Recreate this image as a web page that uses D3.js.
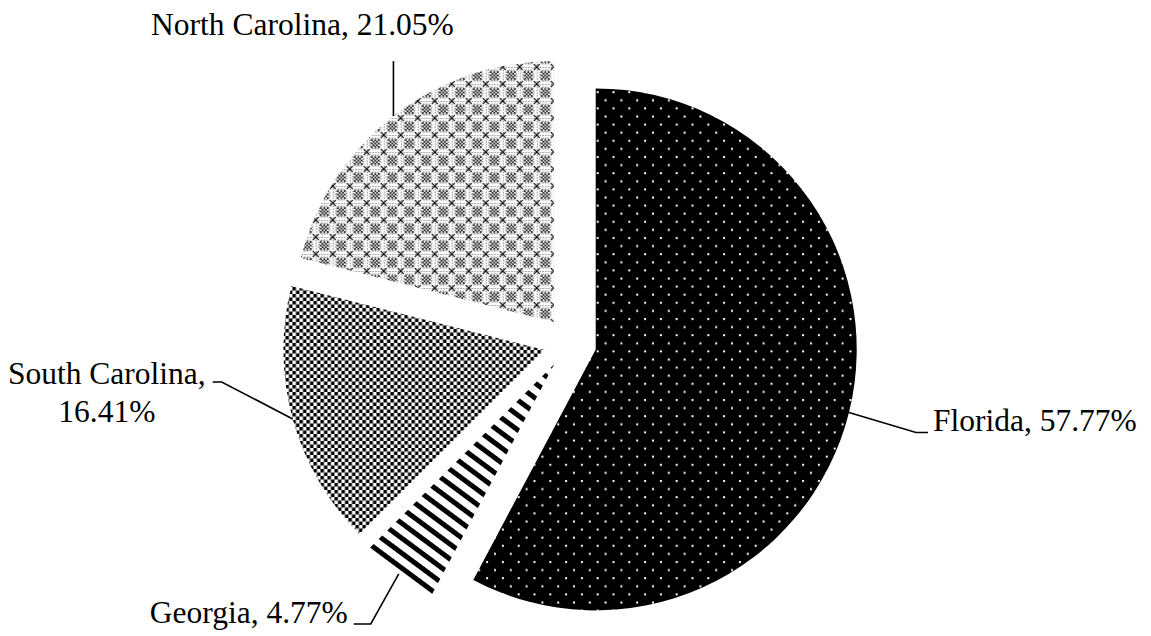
<!DOCTYPE html>
<html><head><meta charset="utf-8">
<script src="https://cdn.jsdelivr.net/npm/d3@7"></script>
<style>
body{margin:0;background:#fff}
svg{display:block}
text{font-family:"Liberation Serif","Times New Roman",serif;font-size:31.5px;fill:#000}
</style>
</head><body><svg id="c" width="1151" height="636"></svg>
<script>
// ---- data ----
const states = ["Florida", "Georgia", "South Carolina", "North Carolina"];
const shares = [57.77, 4.77, 16.41, 21.05];
const labelLines = [["Florida, 57.77%"], ["Georgia, 4.77%"], ["South Carolina,", "16.41%"], ["North Carolina, 21.05%"]];
const patternIds = ["pFL", "pGA", "pSC", "pNC"];

// ---- layout ----
const W = 1151, H = 636;
const cx = 570, cy = 343, R = 261, explode = 26.5;

const svg = d3.select("#c");
const defs = svg.append("defs");

// Florida: black with white dots
const pFL = defs.append("pattern").attr("id", "pFL").attr("patternUnits", "userSpaceOnUse")
  .attr("width", 15.8).attr("height", 16.2);
pFL.append("rect").attr("width", 15.8).attr("height", 16.2).attr("fill", "#000");
pFL.append("rect").attr("x", 1).attr("y", 1).attr("width", 2).attr("height", 2).attr("fill", "#fff");
pFL.append("rect").attr("x", 8.9).attr("y", 9.1).attr("width", 2).attr("height", 2).attr("fill", "#fff");

// Georgia: wide stripes
const pGA = defs.append("pattern").attr("id", "pGA").attr("patternUnits", "userSpaceOnUse")
  .attr("width", 40).attr("height", 12).attr("patternTransform", "rotate(36.6)");
pGA.append("rect").attr("width", 40).attr("height", 12).attr("fill", "#fff");
pGA.append("rect").attr("y", 0).attr("width", 40).attr("height", 5).attr("fill", "#000");

// South Carolina: small checkerboard
const cs = 3.5;
const pSC = defs.append("pattern").attr("id", "pSC").attr("patternUnits", "userSpaceOnUse")
  .attr("width", cs * 2).attr("height", cs * 2);
pSC.append("rect").attr("width", cs * 2).attr("height", cs * 2).attr("fill", "#fff");
pSC.append("rect").attr("width", cs).attr("height", cs).attr("fill", "#000");
pSC.append("rect").attr("x", cs).attr("y", cs).attr("width", cs).attr("height", cs).attr("fill", "#000");

// North Carolina: lattice with fine-checker blocks
const s = 17;
const pNC = defs.append("pattern").attr("id", "pNC").attr("patternUnits", "userSpaceOnUse")
  .attr("width", s).attr("height", s);
pNC.append("rect").attr("width", s).attr("height", s).attr("fill", "#fff");
const fc = 1.7, b0 = (s - fc * 5) / 2;
for (let i = 0; i < 5; i++) for (let j = 0; j < 5; j++) {
  if ((i + j) % 2 === 0) pNC.append("rect").attr("x", b0 + i * fc).attr("y", b0 + j * fc)
    .attr("width", fc).attr("height", fc).attr("fill", "#000");
}
[[0, 0], [s, 0], [0, s], [s, s]].forEach(([x, y]) => {
  pNC.append("line").attr("x1", x - 3).attr("y1", y - 3).attr("x2", x + 3).attr("y2", y + 3)
    .attr("stroke", "#000").attr("stroke-width", 1.1);
  pNC.append("line").attr("x1", x - 3).attr("y1", y + 3).attr("x2", x + 3).attr("y2", y - 3)
    .attr("stroke", "#000").attr("stroke-width", 1.1);
});
[[0, 0, s, 0], [0, 0, 0, s]].forEach(([x1, y1, x2, y2]) => {
  pNC.append("line").attr("x1", x1).attr("y1", y1).attr("x2", x2).attr("y2", y2)
    .attr("stroke", "#000").attr("stroke-width", 1).attr("stroke-dasharray", "1.4,1.4");
});
const o = 3.2;
pNC.append("path").attr("d", `M${o+2.2},${o} L${s-o-2.2},${o} L${s-o},${o+2.2} L${s-o},${s-o-2.2} L${s-o-2.2},${s-o} L${o+2.2},${s-o} L${o},${s-o-2.2} L${o},${o+2.2}Z`)
  .attr("fill", "none").attr("stroke", "#000").attr("stroke-width", 0.8).attr("stroke-dasharray", "1.3,1.3");

// ---- pie ----
const data = states.map((st, i) => ({ state: st, value: shares[i], idx: i }));
const pie = d3.pie().value(d => d.value).sort(null).startAngle(0).endAngle(2 * Math.PI);
const arcs = pie(data);
const arc = d3.arc().innerRadius(0).outerRadius(R);

function dir(a) { return [Math.sin(a), -Math.cos(a)]; }

const g = svg.append("g").attr("transform", `translate(${cx},${cy})`);
arcs.forEach(a => {
  const m = (a.startAngle + a.endAngle) / 2;
  const [dx, dy] = dir(m);
  a.ox = dx * explode; a.oy = dy * explode;
  a.mid = m;
});

g.selectAll("path.slice").data(arcs).join("path")
  .attr("class", "slice")
  .attr("transform", d => `translate(${d.ox},${d.oy})`)
  .attr("d", arc)
  .attr("fill", d => `url(#${patternIds[d.data.idx]})`);

// ---- leaders & labels ----
const leaderBends = [
  [[67, 20], [79, 20]],
  [[-28, 50], [-45, 50]],
  [[-71, -37], [-80, -37]],
  [[0, -55]]
];
const lg = svg.append("g");
arcs.forEach(a => {
  const i = a.data.idx;
  const [dx, dy] = dir(a.mid);
  const S = [cx + a.ox + dx * R, cy + a.oy + dy * R];
  const pts = [S].concat(leaderBends[i].map(([bx, by]) => [S[0] + bx, S[1] + by]));
  lg.append("path").attr("d", d3.line()(pts)).attr("fill", "none").attr("stroke", "#000").attr("stroke-width", 1.6);
  const E = pts[pts.length - 1];
  const t = lg.append("text");
  if (i === 0) {
    t.attr("x", E[0] + 5).attr("y", E[1] - 1).attr("text-anchor", "start").text(labelLines[i][0]);
  } else if (i === 1) {
    t.attr("x", E[0] - 6).attr("y", E[1] - 1).attr("text-anchor", "end").text(labelLines[i][0]);
  } else if (i === 2) {
    const t1 = lg.append("text").attr("x", E[0] - 7).attr("y", E[1] + 2).attr("text-anchor", "end").text(labelLines[i][0]);
    const w = t1.node().getComputedTextLength();
    t.attr("x", E[0] - 7 - w / 2).attr("y", E[1] + 40).attr("text-anchor", "middle").text(labelLines[i][1]);
  } else {
    t.attr("x", E[0] - 91).attr("y", E[1] - 26).attr("text-anchor", "middle").text(labelLines[i][0]);
  }
});
</script></body></html>
